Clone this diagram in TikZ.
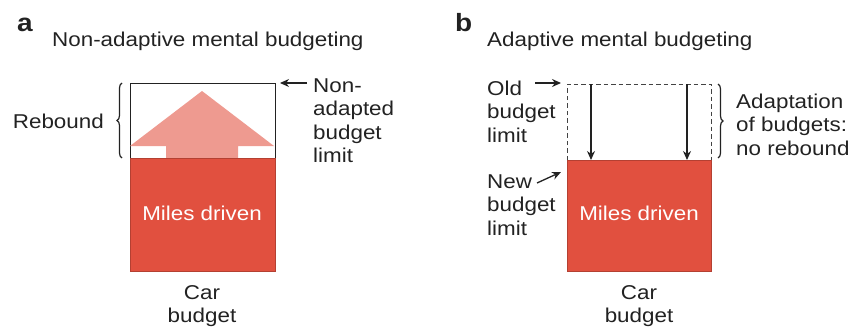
\documentclass[tikz,border=0pt]{standalone}
\usepackage{fontspec}
\setmainfont[FakeStretch=1.12]{Liberation Sans}
\usetikzlibrary{arrows.meta,decorations.pathreplacing}
\definecolor{milered}{HTML}{E1503F}
\definecolor{rebpink}{HTML}{EE9A90}
\definecolor{ink}{HTML}{222222}
\tikzset{
  lbl/.style={font=\fontsize{20}{23.5}\selectfont, text=ink, inner sep=0pt, align=left, anchor=base west},
  lblc/.style={lbl, align=center, anchor=base},
  panel/.style={font=\fontsize{25}{25}\selectfont\bfseries, text=ink, inner sep=0pt, anchor=base west},
  inside/.style={font=\fontsize{20}{23.5}\selectfont, text=white, inner sep=0pt, anchor=base},
  arr/.style={draw=ink, line width=1.3pt, -{Stealth[length=9pt,width=8pt]}},
  brc/.style={draw=ink, line width=1.2pt, decorate, decoration={brace, amplitude=5pt}},
  redbox/.style={fill=milered, draw=milered!80!black, line width=0.8pt}
}
\begin{document}
\begin{tikzpicture}[x=1pt,y=-1pt]
\useasboundingbox (0,0) rectangle (851,329);
% ---------- panel a ----------
\node[panel] (pa) at (17,32) {a};
\node[lbl] (ta) at (52,47) {Non-adaptive mental budgeting};
\draw[draw=ink, line width=0.9pt] (130,83) rectangle (275,158);
\fill[rebpink] (130,146) -- (202,91) -- (274,146) -- (238,146) -- (238,158) -- (166,158) -- (166,146) -- cycle;
\path[redbox] (130,158) rectangle (275,271);
\node[inside] (mda) at (202,220) {Miles driven};
\coordinate (bra1) at (122,158);
\coordinate (bra2) at (122,83);
\draw[brc] (bra1) -- (bra2);
\node[lbl, anchor=base east] (reb) at (104,128) {Rebound};
\coordinate (nalS) at (307,83);
\coordinate (nalE) at (280,83);
\draw[arr] (nalS) -- (nalE);
% base anchor of a multi-line node = baseline of its last line
\node[lbl] (nal) at (313,162.5) {Non-\\adapted\\budget\\limit};
\node[lblc] (cba) at (202,322.5) {Car\\budget};
% ---------- panel b ----------
\node[panel] (pb) at (455,32) {b};
\node[lbl] (tb) at (487,47) {Adaptive mental budgeting};
\draw[draw=ink!85, line width=0.9pt, dash pattern=on 4.5pt off 3pt] (567,160) -- (567,84) -- (711,84) -- (711,160);
\path[redbox] (567,160) rectangle (711,271);
\node[inside] (mdb) at (639,220) {Miles driven};
\coordinate (d1s) at (591,84);
\coordinate (d1e) at (591,160);
\coordinate (d2s) at (687,84);
\coordinate (d2e) at (687,160);
\draw[arr] (d1s) -- (d1e);
\draw[arr] (d2s) -- (d2e);
\coordinate (brb1) at (718,84);
\coordinate (brb2) at (718,158);
\draw[brc] (brb1) -- (brb2);
\node[lbl] (adp) at (736,155) {Adaptation\\of budgets:\\no rebound};
\node[lbl] (old) at (487,142) {Old\\budget\\limit};
\coordinate (oldS) at (535,83);
\coordinate (oldE) at (561,83);
\draw[arr] (oldS) -- (oldE);
\node[lbl] (new) at (487,235) {New\\budget\\limit};
\coordinate (newS) at (537,183);
\coordinate (newE) at (561,172);
\draw[arr] (newS) -- (newE);
\node[lblc] (cbb) at (639,322.5) {Car\\budget};
\end{tikzpicture}
\end{document}
